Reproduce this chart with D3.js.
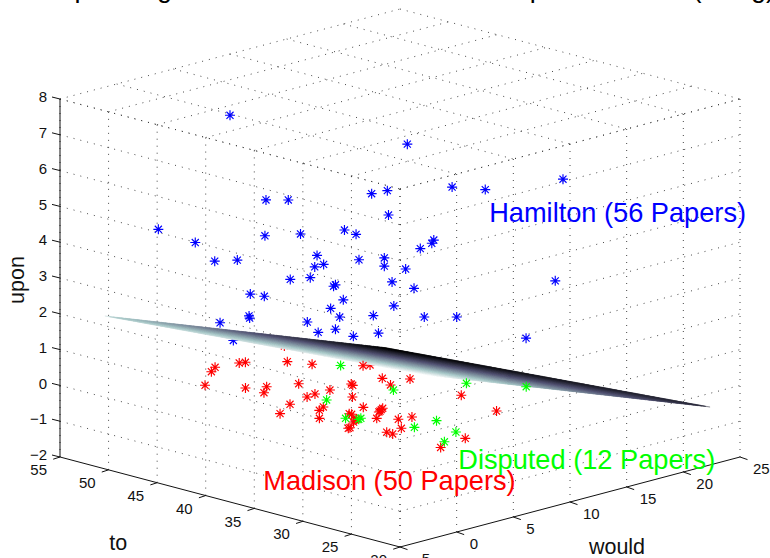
<!DOCTYPE html>
<html><head><meta charset="utf-8">
<script src="https://d3js.org/d3.v7.min.js"></script>
<style>html,body{margin:0;padding:0;background:#fff}svg{display:block;font-family:"Liberation Sans",Arial,sans-serif}</style>
</head><body><svg id="c" width="770" height="558"></svg>
<script>
const titleParts = ["Separating Plane between Federalist","Papers in the 3D","(using)"];
const toTicks = [55,50,45,40,35,30,25,20];
const wouldTicks = [-5,0,5,10,15,20,25];
const uponTicks = [-2,-1,0,1,2,3,4,5,6,7,8];
// [to, would, upon]
const hamiltonBehind = [[46.08,2.65,1.255]];
const hamilton = [
[46.25,2.50,7.545],[37.12,10.32,6.74],[49.94,-0.66,4.36],[48.04,0.97,3.99],[47.04,1.83,3.47],[45.87,2.82,3.50],
[44.40,4.09,5.18],[43.25,5.07,5.18],[44.45,4.04,4.18],[42.62,5.61,4.23],[38.96,8.75,5.355],[38.15,9.44,5.44],
[38.09,9.49,4.76],[40.36,7.55,4.34],[39.76,8.06,4.22],[34.82,12.30,5.54],[33.11,13.76,5.47],[29.11,17.19,5.76],
[41.77,6.34,3.63],[41.43,6.63,3.38],[41.89,6.24,3.31],[42.12,6.04,3.01],[43.15,5.16,2.96],[39.61,8.19,3.51],
[38.31,9.31,3.56],[38.31,9.31,3.33],[36.46,10.90,3.82],[35.86,11.40,3.97],[35.76,11.49,4.06],[37.21,10.25,3.25],
[37.91,9.65,2.89],[36.78,10.62,2.71],[40.82,7.15,2.81],[40.92,7.07,2.77],[40.42,7.50,2.39],[45.21,3.40,2.55],
[44.48,4.01,2.49],[37.82,9.73,2.22],[41.07,6.94,2.15],[40.60,7.34,1.91],[38.87,8.82,1.95],[36.25,11.07,1.91],
[34.58,12.50,1.91],[45.27,3.34,1.94],[45.24,3.37,1.88],[42.27,5.91,1.77],[40.82,7.15,1.57],[41.71,6.39,1.48],
[39.90,7.94,1.37],[38.61,9.05,1.46],[29.51,16.85,2.92],[31.01,15.56,1.32],[46.76,2.06,1.75]];
const madisonBehind = [[51.12,11.47,0],[43.01,12.08,0]];
const madison = [
[50.54,4.86,0],[49.87,3.96,0],[47.56,1.42,0],[50.13,6.64,0],[49.95,7.03,0],[44.95,2.75,0],[44.11,3.90,0],[43.08,2.78,0],
[47.91,8.98,0],[46.13,9.64,0],[43.04,5.81,0],[39.49,2.00,0],[38.18,0.00,0],[40.03,3.97,0],[40.21,4.82,0],[40.21,6.14,0],
[37.25,3.02,0],[36.81,2.29,0],[35.25,0.96,0],[43.23,11.65,0],[40.28,8.08,0],[39.95,7.93,0],[37.70,5.97,0],[39.79,10.40,0],
[38.23,11.51,0],[38.07,9.65,0],[35.13,4.73,0],[33.55,4.85,0],[33.94,5.42,0],[33.74,5.13,0],[34.61,3.04,0],[34.37,3.05,0],
[33.09,2.25,0],[33.20,2.49,0],[32.30,3.49,0],[31.00,4.28,0],[30.74,5.26,0],[29.09,2.91,0],[31.82,0.57,0],[31.85,0.74,0],
[29.08,1.61,0],[28.43,1.58,0],[23.34,1.45,0],[23.85,4.06,0],[32.44,11.07,0],[27.55,9.99,0],[32.77,1.85,0],[33.42,4.64,0]];
const disputed = [
[44.43,10.70,0],[38.44,4.33,0],[33.91,2.12,0],[33.12,2.79,0],[33.03,2.53,0],[36.94,8.94,0],
[34.49,13.28,0],[30.75,15.35,0],[28.76,5.73,0],[25.56,4.70,0],[28.61,3.65,0],[24.25,2.56,0]];
// separating plane: upon = c0 + c1*(to-to0) + c2*(would-would0)
const planeCoef = [2.35,-0.0222,-0.1195];
const planeToRange = [21.54,55];
const planeWouldRange = [-1.04,23.68];
const boneStops = [0,0.375,0.75,1];
const boneColors = ["#000000","#515171","#a6c6c6","#ffffff"];

const svg = d3.select("#c");
const aS = d3.scaleLinear().domain([55,20]).range([0,1]);
const bS = d3.scaleLinear().domain([-5,25]).range([0,1]);
const hS = d3.scaleLinear().domain([0,2]).range([60,740]);
const dS = d3.scaleLinear().domain([-1,1]).range([367,547]);
const zS = d3.scaleLinear().domain([-2,8]).range([0,358]);
const P = (to,w,z)=>{const a=aS(to),b=bS(w);return [hS(a+b),dS(a-b)-zS(z)];};
const line = d3.line();

// grid
const grid = svg.append("g").attr("fill","none").attr("stroke","#333").attr("stroke-width",0.9).attr("stroke-dasharray","1 6");
const seg=(p,q)=>grid.append("path").attr("d",line([p,q]));
toTicks.forEach(t=>{
  seg(P(t,-5,-2),P(t,-5,8));
  seg(P(t,-5,8),P(t,25,8));
});
wouldTicks.forEach(w=>{
  seg(P(20,w,-2),P(20,w,8));
  seg(P(55,w,8),P(20,w,8));
});
uponTicks.slice(1).forEach(z=>{
  seg(P(55,-5,z),P(20,-5,z));
  seg(P(20,-5,z),P(20,25,z));
});

// star marker
const star = {draw(ctx,size){const r=Math.sqrt(size)/2,k=r*Math.SQRT1_2;
  ctx.moveTo(-r,0);ctx.lineTo(r,0);ctx.moveTo(0,-r);ctx.lineTo(0,r);
  ctx.moveTo(-k,-k);ctx.lineTo(k,k);ctx.moveTo(-k,k);ctx.lineTo(k,-k);}};
const sym = d3.symbol().type(star).size(100);
const drawPts=(data,color)=>svg.append("g").attr("fill","none").attr("stroke",color).attr("stroke-width",1.15)
  .selectAll("path").data(data).join("path").attr("d",sym)
  .attr("transform",d=>{const p=P(d[0],d[1],d[2]);return `translate(${p[0]},${p[1]})`;});

drawPts(hamiltonBehind,"#0000ff");
drawPts(madisonBehind,"#ff0000");

// plane
const zPlane=(t,w)=>planeCoef[0]+planeCoef[1]*(t-planeToRange[0])+planeCoef[2]*(w-planeWouldRange[0]);
const zHi=zPlane(planeToRange[0],planeWouldRange[0]), zLo=zPlane(planeToRange[1],planeWouldRange[1]);
const cS=d3.scaleLinear().domain(boneStops.map(s=>zLo+s*(zHi-zLo))).range(boneColors).interpolate(d3.interpolateRgb);
const N=70;
const tS=d3.scaleLinear().domain([0,N]).range(planeToRange);
const wS=d3.scaleLinear().domain([0,N]).range(planeWouldRange);
const cells=[];
d3.range(N).forEach(i=>d3.range(N).forEach(j=>cells.push([i,j])));
svg.append("g").selectAll("path").data(cells).join("path")
 .attr("d",([i,j])=>{const c=[[i,j],[i+1,j],[i+1,j+1],[i,j+1]].map(([u,v])=>{const t=tS(u),w=wS(v);return P(t,w,zPlane(t,w));});return line(c)+"Z";})
 .attr("fill",([i,j])=>{const t=tS(i+.5),w=wS(j+.5);return cS(zPlane(t,w));})
 .attr("stroke",([i,j])=>{const t=tS(i+.5),w=wS(j+.5);return cS(zPlane(t,w));}).attr("stroke-width",0.3);

drawPts(hamilton,"#0000ff");
drawPts(madison,"#ff0000");
drawPts(disputed,"#00ff00");

// axes
const ax=svg.append("g").attr("fill","none").attr("stroke","#111").attr("stroke-width",1);
ax.append("path").attr("d",line([P(55,-5,-2),P(20,-5,-2),P(20,25,-2)]));
ax.append("path").attr("d",line([P(55,-5,-2),P(55,-5,8)]));
const txt=svg.append("g").attr("fill","#111").attr("font-size",15);
toTicks.forEach(t=>{const p=P(t,-5,-2);
  ax.append("path").attr("d",line([p,[p[0]-6.8,p[1]+2.2]]));
  txt.append("text").attr("x",p[0]-13).attr("y",p[1]+12.8).attr("dy","0.36em").attr("text-anchor","end").text(t);
});
wouldTicks.forEach(w=>{const p=P(20,w,-2);
  ax.append("path").attr("d",line([p,[p[0]+7.5,p[1]+2.6]]));
  txt.append("text").attr("x",p[0]+13).attr("y",p[1]+12).attr("dy","0.36em").text(String(w).replace("-","\u2212"));
});
uponTicks.forEach(z=>{const p=P(55,-5,z);
  ax.append("path").attr("d",line([p,[p[0]-8,p[1]-2]]));
  txt.append("text").attr("x",p[0]-13).attr("y",p[1]-2.3).attr("dy","0.36em").attr("text-anchor","end").text(String(z).replace("-","\u2212"));
});
// labels
const lab=(x,y,t,fs,col,anchor)=>svg.append("text").attr("x",x).attr("y",y).attr("font-size",fs).attr("fill",col).attr("text-anchor",anchor||"start").text(t);
lab(118.3,549.5,"to",21.5,"#111","middle");
lab(617,553.5,"would",21.5,"#111","middle");
svg.append("text").attr("transform","translate(23.5,280) rotate(-90)").attr("text-anchor","middle").attr("font-size",21.5).attr("fill","#111").text("upon");
lab(489.2,221.7,"Hamilton (56 Papers)",27.2,"#0000ff");
lab(263.3,490,"Madison (50 Papers)",27.2,"#ff0000");
lab(458.3,469.3,"Disputed (12 Papers)",27.2,"#00ff00");
const tt=lab(41.5,-2.7,"",27,"#000");
tt.selectAll("tspan").data(titleParts).join("tspan").attr("dx",(d,i)=>[0,5,-13][i]).text((d,i)=>i<2?d+" ":d);
</script></body></html>
